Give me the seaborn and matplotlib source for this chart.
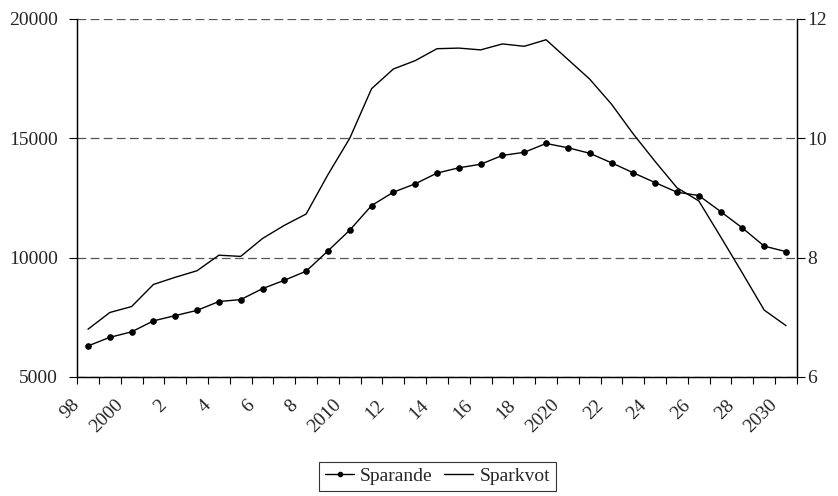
import matplotlib
matplotlib.use("Agg")
import matplotlib.pyplot as plt
import matplotlib.transforms as mtransforms
import seaborn as sns
import pandas as pd
import numpy as np
from matplotlib.ticker import FixedLocator, NullFormatter, FixedFormatter
from matplotlib.lines import Line2D

years = list(range(1998, 2031))
tick_labels = ["98", "2000", "2", "4", "6", "8", "2010", "12", "14", "16", "18",
               "2020", "22", "24", "26", "28", "2030"]
sparande = [6300, 6660, 6890, 7350, 7570, 7790, 8160, 8240, 8700, 9050, 9430,
            10280, 11150, 12180, 12740, 13090, 13540, 13760, 13910, 14280, 14410,
            14780, 14600, 14370, 13970, 13550, 13140, 12740, 12600, 11930, 11240,
            10480, 10250]
sparkvot = [6.80, 7.08, 7.18, 7.55, 7.67, 7.78, 8.04, 8.02, 8.32, 8.54, 8.73,
            9.39, 10.00, 10.83, 11.16, 11.30, 11.50, 11.51, 11.48, 11.58, 11.54,
            11.65, 11.32, 10.99, 10.57, 10.07, 9.61, 9.17, 8.95, 8.35, 7.74,
            7.12, 6.86]

sns.set_style("white")
plt.rcParams["font.family"] = ["Liberation Serif", "DejaVu Serif"]
plt.rcParams["font.size"] = 14

df = pd.DataFrame({"pos": np.arange(len(years)), "Sparande": sparande, "Sparkvot": sparkvot})

fig = plt.figure(figsize=(8.38, 4.96), dpi=100)
ax = fig.add_axes([0.092, 0.240, 0.859, 0.722])
ax2 = ax.twinx()

sns.lineplot(data=df, x="pos", y="Sparande", ax=ax, color="black", lw=1.0,
             marker="o", markersize=4, markeredgecolor="black", legend=False)
sns.lineplot(data=df, x="pos", y="Sparkvot", ax=ax2, color="black", lw=1.0, legend=False)

n = len(years)
ax.set_xlim(-0.5, n - 0.5)
ax.set_ylim(5000, 20000)
ax2.set_ylim(6, 12)
ax.set_yticks([5000, 10000, 15000, 20000])
ax.set_yticklabels(["5000", "10000", "15000", "20000"])
ax2.set_yticks([6, 8, 10, 12])
ax2.set_yticklabels(["6", "8", "10", "12"])

ax.xaxis.set_major_locator(FixedLocator(np.arange(-0.5, n, 1.0)))
ax.xaxis.set_major_formatter(NullFormatter())
ax.xaxis.set_minor_locator(FixedLocator(np.arange(0, n, 2)))
ax.xaxis.set_minor_formatter(FixedFormatter(tick_labels))
ax.tick_params(axis="x", which="major", direction="out", length=5, width=0.8, color="black", bottom=True)
ax.tick_params(axis="x", which="minor", length=0, pad=4, labelsize=14)
offset = mtransforms.ScaledTranslation(-17 / 100, -14 / 100, fig.dpi_scale_trans)
for lbl in ax.get_xticklabels(minor=True):
    lbl.set_rotation(45)
    lbl.set_ha("right")
    lbl.set_va("top")
    lbl.set_rotation_mode("anchor")
    lbl.set_transform(lbl.get_transform() + offset)

ax.tick_params(axis="y", direction="out", length=6, width=0.8, color="black", left=True, labelsize=14, pad=8)
ax2.tick_params(axis="y", direction="out", length=6, width=0.8, color="black", right=True, labelsize=14, pad=1.5)

ax.set_xlabel("")
ax.set_ylabel("")
ax2.set_ylabel("")

ax.yaxis.grid(True, linestyle=(0, (7, 3.5)), color="#555555", lw=0.9)
ax.xaxis.grid(False)
ax2.grid(False)

for a in (ax, ax2):
    a.spines["top"].set_visible(False)
    for s in ("left", "right", "bottom"):
        a.spines[s].set_color("black")
        a.spines[s].set_linewidth(0.9)

handles = [Line2D([], [], color="black", lw=1.0, marker="o", markersize=3),
           Line2D([], [], color="black", lw=1.0)]
leg = fig.legend(handles, ["Sparande", "Sparkvot"], loc="center",
                 bbox_to_anchor=(0.522, 0.04), ncol=2, frameon=True,
                 fancybox=False, edgecolor="black", handlelength=1.5,
                 handletextpad=0.3, columnspacing=0.6, borderpad=0.3, fontsize=14)
leg.get_frame().set_linewidth(0.8)

fig.savefig("out.png", dpi=100)
